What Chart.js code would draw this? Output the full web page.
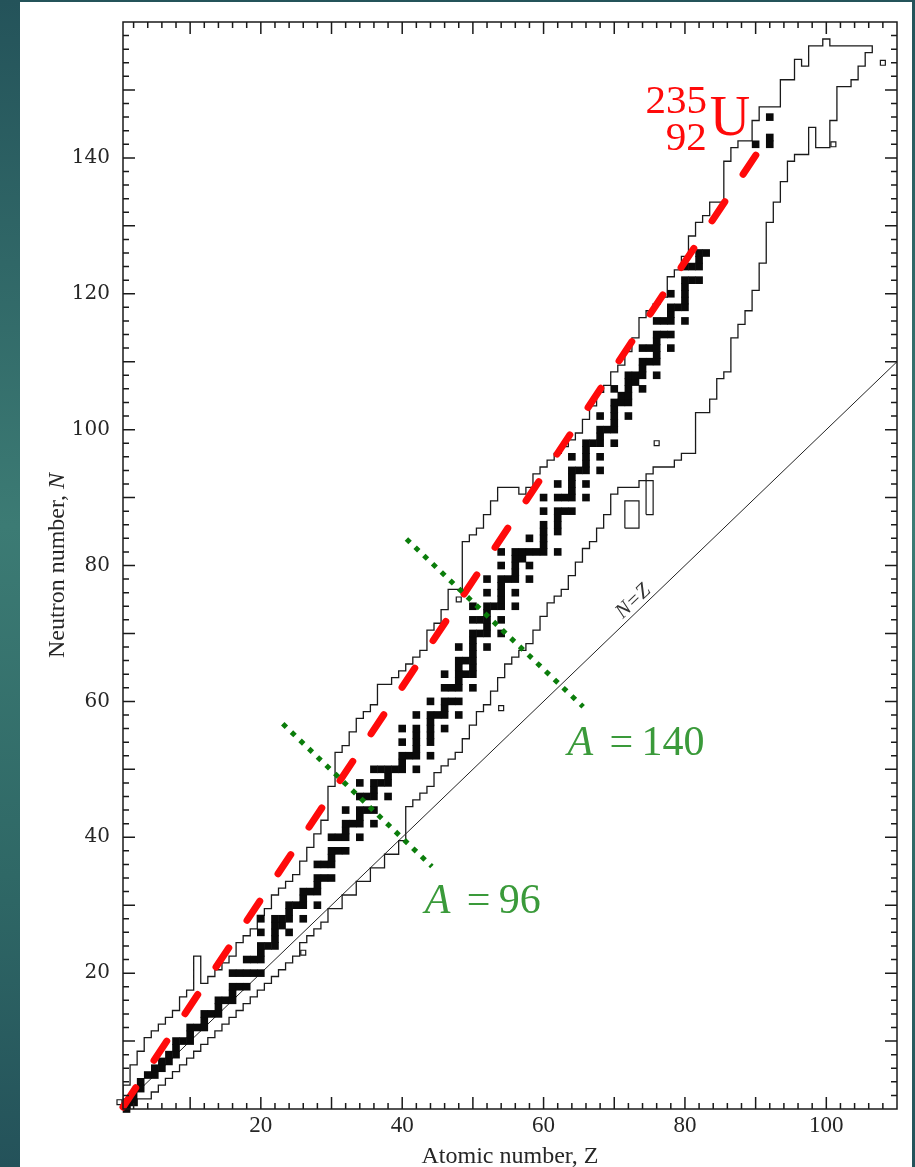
<!DOCTYPE html>
<html>
<head>
<meta charset="utf-8">
<script src="https://cdn.jsdelivr.net/npm/chart.js@4/dist/chart.umd.min.js"></script>
<style>
  html, body { margin: 0; padding: 0; }
  body {
    width: 915px; height: 1167px; position: relative; overflow: hidden;
    background: linear-gradient(to bottom, #24535a 0%, #3c7b74 45%, #2f6866 75%, #24525a 100%);
  }
  #sheet { position: absolute; left: 20px; top: 2px; width: 892px; height: 1165px; background: #fff; }
  #chart { position: absolute; left: 0; top: 0; }
</style>
</head>
<body>
<div id="sheet"></div>
<canvas id="chart" width="915" height="1167"></canvas>
<script>
// stable nuclides: neutron numbers for each Z (index = Z)
const stableN = [
  [], [0, 1], [1, 2], [3, 4], [5], [5, 6], [6, 7], [7, 8], [8, 9, 10], [10],
  [10, 11, 12], [12], [12, 13, 14], [14], [14, 15, 16], [16], [16, 17, 18, 20], [18, 20], [18, 20, 22], [20, 22],
  [20, 22, 23, 24, 26, 28], [24], [24, 25, 26, 27, 28], [27, 28], [26, 28, 29, 30], [30], [28, 30, 31, 32], [32], [30, 32, 33, 34, 36], [34, 36],
  [34, 36, 37, 38, 40], [38, 40], [38, 40, 41, 42, 44], [42], [40, 42, 43, 44, 46, 48], [44, 46], [42, 44, 46, 47, 48, 50], [48, 50], [46, 48, 49, 50], [50],
  [50, 51, 52, 54, 56], [52], [50, 52, 53, 54, 55, 56, 58], [], [52, 54, 55, 56, 57, 58, 60], [58], [56, 58, 59, 60, 62, 64], [60, 62], [58, 60, 62, 63, 64, 65, 66, 68], [64, 66],
  [62, 64, 65, 66, 67, 68, 69, 70, 72, 74], [70, 72], [68, 70, 71, 72, 73, 74, 76, 78], [74], [70, 72, 74, 75, 76, 77, 78, 80, 82], [78], [74, 76, 78, 79, 80, 81, 82], [81, 82], [78, 80, 82, 84], [82],
  [82, 83, 84, 85, 86, 88, 90], [], [82, 85, 86, 87, 88, 90, 92], [88, 90], [88, 90, 91, 92, 93, 94, 96], [94], [90, 92, 94, 95, 96, 97, 98], [98], [94, 96, 98, 99, 100, 102], [100],
  [98, 100, 101, 102, 103, 104, 106], [104, 105], [102, 104, 105, 106, 107, 108], [107, 108], [106, 108, 109, 110, 112], [110, 112], [108, 110, 111, 112, 113, 114, 116], [114, 116], [112, 114, 116, 117, 118, 120], [118],
  [116, 118, 119, 120, 121, 122, 124], [122, 124], [122, 124, 125, 126], [126], [], [], [], [], [], [],
  [142], [], [142, 143, 146]
];

// limits of known nuclides, Z = 1 .. 106
const firstZ = 1;
const upperN = [
  3, 6, 8, 10, 11, 12, 13, 14, 16, 17,
  22, 18, 19, 20, 21, 22, 24, 25, 26, 28,
  29, 31, 32, 33, 34, 36, 38, 40, 42, 47,
  52, 53, 55, 57, 58, 59, 62, 62, 63, 64,
  65, 66, 67, 70, 71, 73, 76, 76, 83, 84,
  85, 87, 89, 91, 91, 91, 90, 91, 93, 94,
  95, 96, 97, 98, 99, 101, 103, 105, 106, 108,
  109, 111, 113, 116, 117, 118, 119, 122, 123, 125,
  128, 130, 131, 133, 133, 139, 141, 142, 142, 145,
  147, 147, 147, 151, 151, 154, 153, 156, 156, 157,
  156, 156, 156, 156, 156, 156
];
const lowerN = [
  0, 1, 2, 2, 3, 4, 5, 6, 7, 8,
  9, 10, 11, 12, 13, 14, 15, 16, 17, 18,
  19, 20, 21, 22, 23, 25, 26, 27, 28, 30,
  30, 32, 32, 34, 34, 36, 36, 38, 38, 40,
  45, 46, 47, 48, 50, 51, 52, 53, 55, 57,
  59, 60, 62, 64, 66, 67, 68, 69, 71, 73,
  75, 76, 77, 79, 81, 83, 84, 86, 88, 91,
  92, 92, 92, 93, 94, 95, 95, 95, 96, 97,
  97, 103, 103, 105, 108, 109, 114, 116, 118, 121,
  125, 131, 134, 137, 140, 141, 141, 145, 142, 142,
  146, 151, 151, 152, 154, 156
];

// isolated known nuclides drawn as open squares
const openZ = [0, 26, 48, 54, 76, 101, 108];
const openN = [1, 23, 75, 59, 98, 142, 154];

// isolated groups drawn as open boxes: first/last Z and first/last N
const boxZ0 = [72, 75];
const boxZ1 = [73, 75];
const boxN0 = [86, 88];
const boxN1 = [89, 92];

// overlays
const nzZ = [0, 110];
const u235Z = [0.5, 90.6];
const u235N = [0.3, 141.3];
const a96Z = [23.1, 44.2];
const a96N = [56.7, 35.7];
const a140Z = [40.6, 65.6];
const a140N = [83.9, 59.2];

const xTicks = [20, 40, 60, 80, 100];
const yTicks = [20, 40, 60, 80, 100, 120, 140];

const stablePts = [];
stableN.forEach((ns, z) => ns.forEach(n => stablePts.push({ x: z, y: n })));

const outline = [];
upperN.forEach((n, i) => {
  const z = firstZ + i;
  outline.push({ x: z - 0.5, y: n + 0.5 }, { x: z + 0.5, y: n + 0.5 });
});
for (let i = lowerN.length - 1; i >= 0; i--) {
  const z = firstZ + i;
  outline.push({ x: z + 0.5, y: lowerN[i] - 0.5 }, { x: z - 0.5, y: lowerN[i] - 0.5 });
}
outline.push(outline[0]);

const boxes = boxZ0.map((z0, i) => {
  const l = z0 - 0.5, r = boxZ1[i] + 0.5, b = boxN0[i] - 0.5, t = boxN1[i] + 0.5;
  return {
    data: [{ x: l, y: b }, { x: r, y: b }, { x: r, y: t }, { x: l, y: t }, { x: l, y: b }],
    showLine: true, order: 5, borderColor: '#1a1a1a', borderWidth: 1.2, pointRadius: 0
  };
});

const pairs = (xs, ys) => xs.map((v, i) => ({ x: v, y: ys[i] }));

const serif = '"Liberation Serif", "Times New Roman", serif';

// frame, ticks and all text
const decorations = {
  id: 'decorations',
  afterDraw(chart) {
    const { ctx, chartArea: a, scales: { x, y } } = chart;
    ctx.save();
    ctx.strokeStyle = '#1a1a1a';
    ctx.lineWidth = 1.5;
    ctx.strokeRect(a.left, a.top, a.right - a.left, a.bottom - a.top);
    ctx.beginPath();
    for (let v = 2; v < x.max; v += 2) {
      const px = x.getPixelForValue(v);
      const len = v % 10 === 0 ? 12 : 6;
      ctx.moveTo(px, a.bottom); ctx.lineTo(px, a.bottom - len);
      ctx.moveTo(px, a.top); ctx.lineTo(px, a.top + len);
    }
    for (let v = 2; v < y.max; v += 2) {
      const py = y.getPixelForValue(v);
      const len = v % 10 === 0 ? 12 : 6;
      ctx.moveTo(a.left, py); ctx.lineTo(a.left + len, py);
      ctx.moveTo(a.right, py); ctx.lineTo(a.right - len, py);
    }
    ctx.stroke();

    // tick labels
    ctx.fillStyle = '#262626';
    ctx.font = '23px ' + serif;
    ctx.textAlign = 'center';
    ctx.textBaseline = 'top';
    xTicks.forEach(v => ctx.fillText(String(v), x.getPixelForValue(v), a.bottom + 5));
    ctx.font = '20px "DejaVu Serif", serif';
    ctx.textAlign = 'right';
    ctx.textBaseline = 'middle';
    yTicks.forEach(v => ctx.fillText(String(v), a.left - 13, y.getPixelForValue(v)));

    // axis titles
    ctx.font = '24px ' + serif;
    ctx.textAlign = 'center';
    ctx.textBaseline = 'alphabetic';
    ctx.fillText('Atomic number, Z', (a.left + a.right) / 2, a.bottom + 54);
    ctx.save();
    ctx.translate(a.left - 65, (a.top + a.bottom) / 2);
    ctx.rotate(-Math.PI / 2);
    ctx.textBaseline = 'middle';
    const t1 = 'Neutron number, ';
    ctx.font = '24px ' + serif;
    const w1 = ctx.measureText(t1).width;
    ctx.font = 'italic 24px ' + serif;
    const w2 = ctx.measureText('N').width;
    ctx.textAlign = 'left';
    ctx.font = '24px ' + serif;
    ctx.fillText(t1, -(w1 + w2) / 2, 0);
    ctx.font = 'italic 24px ' + serif;
    ctx.fillText('N', -(w1 + w2) / 2 + w1, 0);
    ctx.restore();

    // N=Z label along the diagonal
    const ang = Math.atan2(y.getPixelForValue(110) - y.getPixelForValue(0), x.getPixelForValue(110) - x.getPixelForValue(0));
    ctx.save();
    ctx.translate(x.getPixelForValue(72.7), y.getPixelForValue(74.7));
    ctx.rotate(ang);
    ctx.font = 'italic 21px ' + serif;
    ctx.fillStyle = '#333';
    ctx.textAlign = 'center';
    ctx.textBaseline = 'middle';
    ctx.fillText('N=Z', 0, 0);
    ctx.restore();

    // 235U label
    ctx.fillStyle = '#ff0a0a';
    ctx.textBaseline = 'alphabetic';
    ctx.font = '41px ' + serif;
    ctx.textAlign = 'right';
    ctx.fillText('235', x.getPixelForValue(83.12), y.getPixelForValue(146.6));
    ctx.fillText('92', x.getPixelForValue(83.08), y.getPixelForValue(141.2));
    ctx.font = '56px ' + serif;
    ctx.textAlign = 'left';
    ctx.fillText('U', x.getPixelForValue(83.5), y.getPixelForValue(143.4));

    // mass number labels
    ctx.fillStyle = '#3a9a3a';
    [['140', 63.4, 52.1], ['96', 43.2, 28.9]].forEach(([num, zx, ny]) => {
      const px = x.getPixelForValue(zx), py = y.getPixelForValue(ny);
      ctx.font = 'italic 42px ' + serif;
      ctx.fillText('A', px, py);
      ctx.font = '42px ' + serif;
      ctx.fillText('=', px + 42, py);
      ctx.fillText(num, px + 74, py);
    });
    ctx.restore();
  }
};

new Chart(document.getElementById('chart'), {
  type: 'scatter',
  data: {
    datasets: [
      {
        data: pairs(a140Z, a140N), showLine: true, order: 0,
        borderColor: '#0b7d0b', borderWidth: 5, borderDash: [5, 7], borderCapStyle: 'butt',
        pointRadius: 0, clip: false
      },
      {
        data: pairs(a96Z, a96N), showLine: true, order: 0,
        borderColor: '#0b7d0b', borderWidth: 5, borderDash: [5, 7], borderCapStyle: 'butt',
        pointRadius: 0, clip: false
      },
      {
        data: pairs(u235Z, u235N), showLine: true, order: 1,
        borderColor: '#ff0a0a', borderWidth: 7, borderDash: [23, 33], borderCapStyle: 'round',
        pointRadius: 0, clip: false
      },
      {
        data: stablePts, order: 2,
        pointStyle: 'rect', pointRadius: 5.4, backgroundColor: '#0a0a0a', borderWidth: 0, clip: false
      },
      {
        data: pairs(openZ, openN), order: 3,
        pointStyle: 'rect', pointRadius: 3.5, backgroundColor: '#fff', borderColor: '#1a1a1a', borderWidth: 1.2, clip: false
      },
      {
        data: pairs(nzZ, nzZ), showLine: true, order: 4,
        borderColor: '#222', borderWidth: 1, pointRadius: 0
      },
      ...boxes,
      {
        data: outline, showLine: true, order: 5,
        borderColor: '#1a1a1a', borderWidth: 1.3, pointRadius: 0, tension: 0
      }
    ]
  },
  options: {
    responsive: false,
    animation: false,
    devicePixelRatio: 1,
    layout: { padding: { left: 123, right: 18, top: 22, bottom: 58 } },
    plugins: { legend: { display: false }, tooltip: { enabled: false } },
    scales: {
      x: { type: 'linear', min: 0.5, max: 110, display: false },
      y: { type: 'linear', min: 0, max: 160, display: false }
    }
  },
  plugins: [decorations]
});
</script>
</body>
</html>
